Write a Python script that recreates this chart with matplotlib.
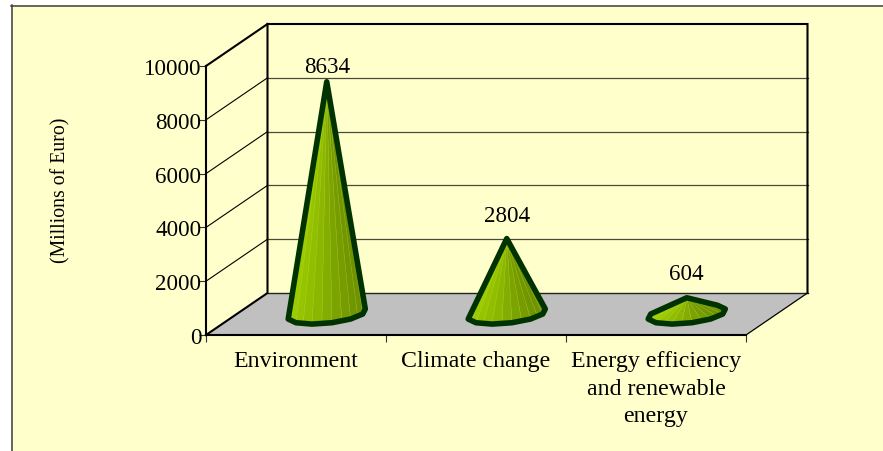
import numpy as np
import matplotlib
matplotlib.use("Agg")
import matplotlib.pyplot as plt
from matplotlib.patches import Polygon, Rectangle
from matplotlib.colors import to_rgb

categories = ["Environment", "Climate change", "Energy efficiency\nand renewable\nenergy"]
values = [8634, 2804, 604]
value_ticks = [0, 2000, 4000, 6000, 8000, 10000]
y_title = "(Millions of Euro)"

W, H = 883, 452
plt.rcParams["font.family"] = ["Liberation Serif", "DejaVu Serif"]
fig = plt.figure(figsize=(W / 100, H / 100), dpi=100, facecolor="white")

BG = "#FFFFCC"
fig.patches.append(Rectangle((11 / W, 0), 1, 1 - 6 / H, transform=fig.transFigure,
                             facecolor=BG, edgecolor="none", zorder=-5))
fig.add_artist(plt.Line2D([11.5 / W, 11.5 / W], [0, 1 - 6 / H], color="#3c3c3c", lw=1.1))
fig.add_artist(plt.Line2D([11 / W, 1], [1 - 6.5 / H, 1 - 6.5 / H], color="#3c3c3c", lw=1.1))

ax = fig.add_axes([206 / W, 1 - 336 / H, 540 / W, 269 / H])
ax.set_xlim(0, 3)
ax.set_ylim(0, 10000)
ax.patch.set_alpha(0)

# oblique depth vector in data units
DX, DY = 61.5 / 180, 42 / 0.0269


def P(x, v, d=0.0):
    return (x + DX * d, v + DY * d)


# floor
ax.add_patch(Polygon([P(0, 0), P(3, 0), P(3, 0, 1), P(0, 0, 1)], closed=True, facecolor="#C0C0C0",
                     edgecolor="none", clip_on=False, zorder=1))
# walls and gridlines
for v in value_ticks[1:-1]:
    ax.plot(*zip(P(0, v), P(0, v, 1)), color="black", lw=0.8, clip_on=False, zorder=2)
    ax.plot(*zip(P(0, v, 1), P(3, v, 1)), color="#4a4a3a", lw=0.9, clip_on=False, zorder=2)
ax.plot(*zip(P(0, 0, 1), P(3, 0, 1)), color="#222222", lw=1.0, clip_on=False, zorder=2)
ax.plot(*zip(P(3, 0), P(3, 0, 1)), color="black", lw=0.9, clip_on=False, zorder=2)
ax.plot(*zip(P(3, 0, 1), P(3, 10000, 1), P(0, 10000, 1), P(0, 0, 1), P(0, 0)),
        color="black", lw=1.5, clip_on=False, zorder=2, solid_joinstyle="miter")
ax.plot(*zip(P(0, 10000), P(0, 10000, 1)), color="black", lw=1.5, clip_on=False, zorder=2)

c_light = np.array(to_rgb("#A2D400"))
c_mid = np.array(to_rgb("#8FBC00"))
c_dark = np.array(to_rgb("#6F9400"))


def hull(pts):
    pts = sorted(set(map(tuple, pts)))
    def half(seq):
        out = []
        for p in seq:
            while len(out) > 1 and (out[-1][0] - out[-2][0]) * (p[1] - out[-2][1]) - (out[-1][1] - out[-2][1]) * (p[0] - out[-2][0]) <= 0:
                out.pop()
            out.append(p)
        return out[:-1]
    return half(pts) + half(pts[::-1])


label_offset_px = [15, 23, 24]
R = 0.2              # base radius in category units
RD = 0.24            # base radius along the depth axis
angles = np.linspace(0, 2 * np.pi, 25)
for i, (val, off) in enumerate(zip(values, label_offset_px)):
    cx = i + 0.5
    ring = np.array([(cx + R * np.cos(a) + DX * (0.5 + RD * np.sin(a)),
                      DY * (0.5 + RD * np.sin(a))) for a in angles])
    apex = np.array(P(cx, val, 0.5))
    order = sorted(range(len(angles) - 1), key=lambda k: -np.sin((angles[k] + angles[k + 1]) / 2))
    for k in order:
        am = (angles[k] + angles[k + 1]) / 2
        f = (1 + np.cos(am)) / 2
        col = c_light + (c_mid - c_light) * f / 0.5 if f < 0.5 else c_mid + (c_dark - c_mid) * (f - 0.5) / 0.5
        ax.add_patch(Polygon([apex, ring[k], ring[k + 1]], closed=True, facecolor=col,
                             edgecolor=col * 0.6 + 0.4 * np.array(to_rgb("#D8E860")), lw=0.25,
                             clip_on=False, zorder=3))
    outline = hull([tuple(p) for p in ring[:-1][::2]] + [tuple(apex)])
    ax.add_patch(Polygon(outline, closed=True, facecolor="none", edgecolor="#003300", lw=4.0,
                         joinstyle="round", clip_on=False, zorder=4))
    ax.annotate(str(val), xy=apex, xytext=(0, off * 0.72), textcoords="offset points",
                ha="center", va="center", fontsize=16.6, color="black", zorder=5,
                annotation_clip=False)

for s in ("top", "right"):
    ax.spines[s].set_visible(False)
for s in ("left", "bottom"):
    ax.spines[s].set_linewidth(1.5)
    ax.spines[s].set_zorder(6)

ax.set_yticks(value_ticks)
ax.set_yticklabels([str(v) for v in value_ticks], fontsize=16.6)
ax.tick_params(axis="y", length=5, width=0.8, pad=-1.5, color="#333333")
ax.set_xticks([0, 1, 2, 3])
ax.set_xticklabels([])
ax.tick_params(axis="x", which="major", length=5, width=0.8, color="#333333")
ax.set_xticks([0.5, 1.5, 2.5], categories, minor=True, fontsize=17.2, linespacing=1.39)
ax.tick_params(axis="x", which="minor", length=0, pad=11)
ax.set_ylabel(y_title, fontsize=14.2)
ax.yaxis.set_label_coords(-136 / 540, 146 / 269)

fig.savefig("out.png", dpi=100, facecolor="white")
